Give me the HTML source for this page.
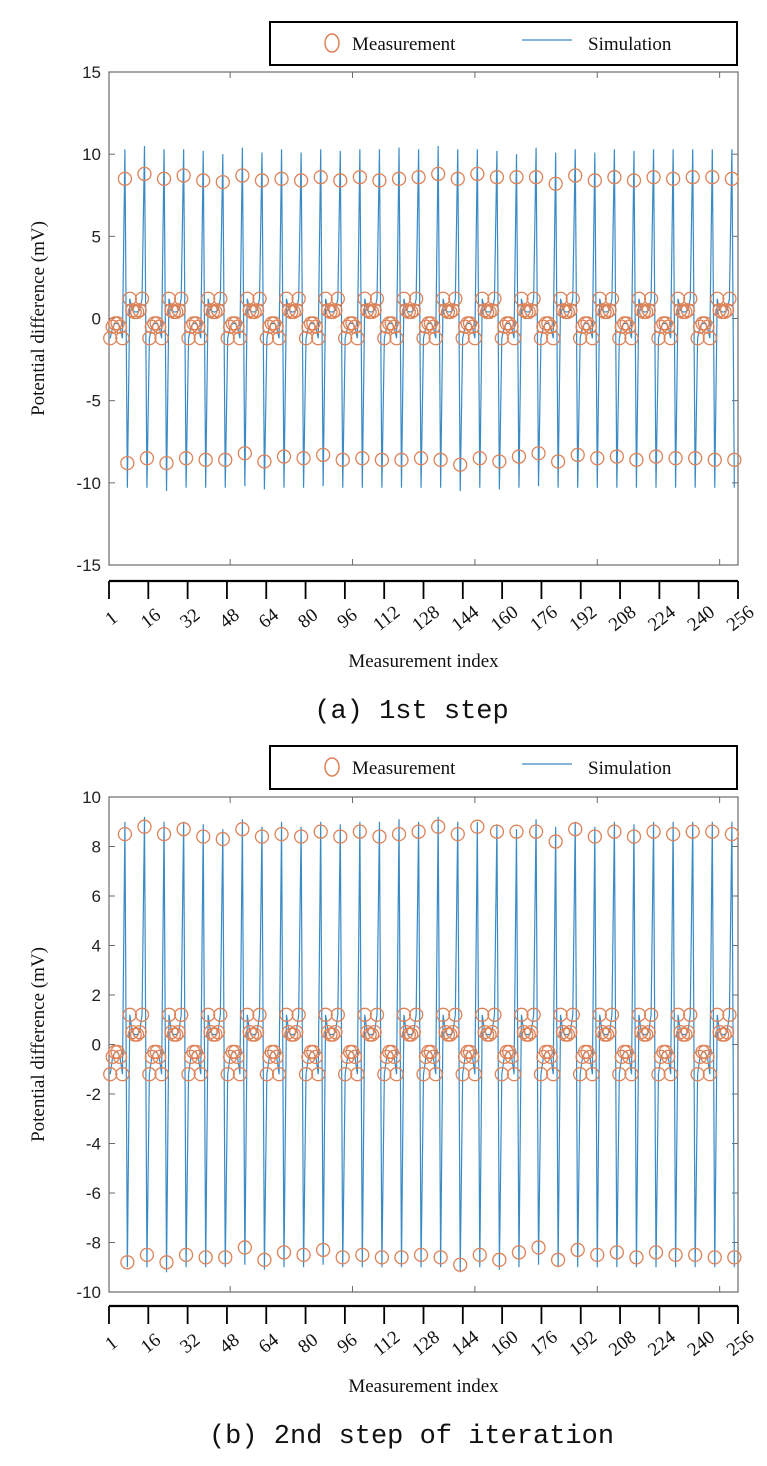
<!DOCTYPE html>
<html><head><meta charset="utf-8"><style>
html,body{margin:0;padding:0;background:#fff;}
svg{display:block;}
</style></head><body>
<svg id="fig" width="767" height="1466" viewBox="0 0 767 1466" xmlns="http://www.w3.org/2000/svg"></svg>
<script>
// ---- data ----
const xTickLabels = [1,16,32,48,64,80,96,112,128,144,160,176,192,208,224,240,256];
const yTicks1 = [-15,-10,-5,0,5,10,15];
const yTicks2 = [-10,-8,-6,-4,-2,0,2,4,6,8,10];
const clusterNeg = [-1.2,-0.5,-0.3,-0.3,-0.5,-1.2];
const clusterPos = [1.2,0.5,0.4,0.4,0.5,1.2];
const measPosPeak = [8.5,8.8,8.5,8.7,8.4,8.3,8.7,8.4,8.5,8.4,8.6,8.4,8.6,8.4,8.5,8.6,8.8,8.5,8.8,8.6,8.6,8.6,8.2,8.7,8.4,8.6,8.4,8.6,8.5,8.6,8.6,8.5];
const measNegPeak = [-8.8,-8.5,-8.8,-8.5,-8.6,-8.6,-8.2,-8.7,-8.4,-8.5,-8.3,-8.6,-8.5,-8.6,-8.6,-8.5,-8.6,-8.9,-8.5,-8.7,-8.4,-8.2,-8.7,-8.3,-8.5,-8.4,-8.6,-8.4,-8.5,-8.5,-8.6,-8.6];
const simPosPeak1 = [10.3,10.5,10.3,10.3,10.2,10.0,10.4,10.1,10.3,10.1,10.3,10.2,10.3,10.3,10.4,10.3,10.5,10.3,10.3,10.2,10.0,10.4,10.1,10.3,10.1,10.3,10.2,10.3,10.3,10.3,10.3,10.3];
const simNegPeak1 = [-10.3,-10.3,-10.5,-10.3,-10.3,-10.3,-10.2,-10.4,-10.3,-10.3,-10.2,-10.3,-10.3,-10.3,-10.3,-10.3,-10.3,-10.5,-10.3,-10.4,-10.3,-10.2,-10.3,-10.3,-10.3,-10.3,-10.3,-10.3,-10.3,-10.3,-10.3,-10.3];
const simPosPeak2 = [9.0,9.2,9.0,9.0,8.9,8.7,9.1,8.8,9.0,8.8,9.0,8.9,9.0,9.0,9.1,9.0,9.2,9.0,9.0,8.9,8.7,9.1,8.8,9.0,8.8,9.0,8.9,9.0,9.0,9.0,9.0,9.0];
const simNegPeak2 = [-9.0,-9.0,-9.2,-9.0,-9.0,-9.0,-8.9,-9.1,-9.0,-9.0,-8.9,-9.0,-9.0,-9.0,-9.0,-9.0,-9.0,-9.2,-9.0,-9.1,-9.0,-8.9,-9.0,-9.0,-9.0,-9.0,-9.0,-9.0,-9.0,-9.0,-9.0,-9.0];

const NS = "http://www.w3.org/2000/svg";
const svg = document.getElementById('fig');
function el(tag, attrs, parent){
  const e = document.createElementNS(NS, tag);
  for (const k in attrs) e.setAttribute(k, attrs[k]);
  (parent||svg).appendChild(e);
  return e;
}
function buildSeries(posPeak, negPeak){
  const vals = [];
  for (let b=0;b<32;b++){
    const c = (b%2===0)?clusterNeg:clusterPos;
    for (let j=0;j<6;j++) vals.push(c[j]);
    vals.push(posPeak[b]);
    vals.push(negPeak[b]);
  }
  return vals;
}
const L=109, R=738;
const xs = i => L + (i-0.5)*(R-L)/257;

function drawPlot(cfg){
  const g = el('g',{});
  
  
  const {top,bottom,ymin,ymax} = cfg;
  const ys = v => bottom - (v-ymin)*(bottom-top)/(ymax-ymin);
  const fr = el('rect',{x:L,y:top,width:R-L,height:bottom-top,fill:'none',stroke:'#6b6b6b','stroke-width':1.2},g);
  
  
  [50,100,150,200,250].forEach(t=>{
    const x = xs(t);
    el('line',{x1:x,x2:x,y1:top,y2:top+6,stroke:'#6b6b6b'},g);
    el('line',{x1:x,x2:x,y1:bottom,y2:bottom-6,stroke:'#6b6b6b'},g);
  });
  cfg.yticks.forEach(t=>{
    const y = ys(t);
    el('line',{x1:L,x2:L+6,y1:y,y2:y,stroke:'#6b6b6b'},g);
    el('line',{x1:R,x2:R-6,y1:y,y2:y,stroke:'#6b6b6b'},g);
    const tx = el('text',{x:L-8,y:y+6,'text-anchor':'end','font-family':'Liberation Sans, sans-serif','font-size':17,fill:'#222'},g);
    
    
    tx.textContent = t;
  });
  const yt = el('text',{x:0,y:0,transform:`translate(44,${(top+bottom)/2}) rotate(-90)`,'text-anchor':'middle','font-family':'Liberation Serif, serif','font-size':19,fill:'#111'},g);
  
  
  yt.textContent = 'Potential difference (mV)';
  const sim = buildSeries(cfg.simPos, cfg.simNeg);
  let d='';
  sim.forEach((v,i)=>{ d += (i?'L':'M') + xs(i+1).toFixed(2)+','+ys(v).toFixed(2); });
  const p = el('path',{d:d,fill:'none',stroke:'#3a8ac6','stroke-width':1.2},g);
  
  
  const meas = buildSeries(measPosPeak, measNegPeak);
  meas.forEach((v,i)=>{
    const c = el('circle',{cx:xs(i+1),cy:ys(v),r:6.5,fill:'none',stroke:'#de8257','stroke-width':1.3},g);
    
    
  });
  const ay = cfg.axisY;
  el('line',{x1:L,x2:R,y1:ay,y2:ay,stroke:'#000','stroke-width':2.2},g);
  xTickLabels.forEach((t,k)=>{
    const x = L + k*(R-L)/16;
    el('line',{x1:x,x2:x,y1:ay,y2:ay+18,stroke:'#000','stroke-width':1.8},g);
    const tx = el('text',{x:0,y:0,transform:`translate(${x+6},${ay+42}) rotate(-38)`,'text-anchor':'middle','font-family':'Liberation Serif, serif','font-size':19,fill:'#111'},g);
    
    
    tx.textContent = t;
  });
  const xt = el('text',{x:(L+R)/2,y:ay+86,'text-anchor':'middle','font-family':'Liberation Serif, serif','font-size':19,fill:'#111'},g);
  
  
  xt.textContent = 'Measurement index';
  const cap = el('text',{x:(L+R)/2-12,y:ay+137,'text-anchor':'middle','font-family':'Liberation Mono, monospace','font-size':27,fill:'#111'},g);
  
  
  cap.textContent = cfg.caption;
  const lg = el('g',{},g);
  
  
  const ly = cfg.legendY;
  el('rect',{x:270,y:ly,width:467,height:43,fill:'#fff',stroke:'#000','stroke-width':2},lg);
  const lc = el('ellipse',{cx:332,cy:ly+21,rx:7,ry:9,fill:'none',stroke:'#de8257','stroke-width':1.5},lg);
  
  
  const t1 = el('text',{x:352,y:ly+28,'font-family':'Liberation Serif, serif','font-size':19,fill:'#111'},lg);
  
  
  t1.textContent='Measurement';
  const ll = el('line',{x1:522,x2:572,y1:ly+18,y2:ly+18,stroke:'#3a8ac6','stroke-width':1.2},lg);
  
  
  const t2 = el('text',{x:588,y:ly+28,'font-family':'Liberation Serif, serif','font-size':19,fill:'#111'},lg);
  
  
  t2.textContent='Simulation';
}
drawPlot({name:'chart-1st-step',top:72,bottom:565,ymin:-15,ymax:15,yticks:yTicks1,simPos:simPosPeak1,simNeg:simNegPeak1,axisY:581,legendY:22,caption:'(a) 1st step'});
drawPlot({name:'chart-2nd-step',top:797,bottom:1292,ymin:-10,ymax:10,yticks:yTicks2,simPos:simPosPeak2,simNeg:simNegPeak2,axisY:1306,legendY:746,caption:'(b) 2nd step of iteration'});
</script>
</body></html>
